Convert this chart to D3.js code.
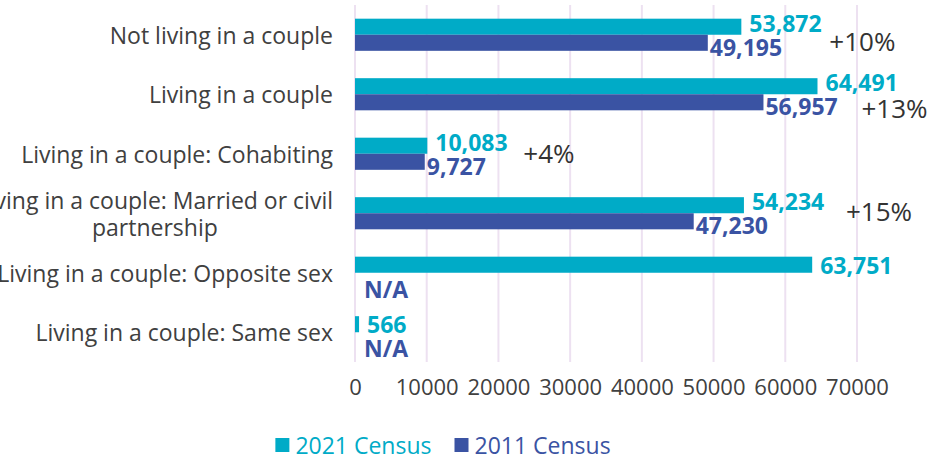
<!DOCTYPE html>
<html>
<head>
<meta charset="utf-8">
<script src="https://cdn.jsdelivr.net/npm/d3@7"></script>
<style>
  html, body { margin: 0; padding: 0; background: #fff; }
  svg { display: block; font-family: "Open Sans", "Noto Sans", sans-serif; }
</style>
</head>
<body>
<svg id="chart" width="930" height="456"></svg>
<script>
// ---- data ----
const categories = [
  "Not living in a couple",
  "Living in a couple",
  "Living in a couple: Cohabiting",
  "Living in a couple: Married or civil partnership",
  "Living in a couple: Opposite sex",
  "Living in a couple: Same sex"
];
const census2021 = [53872, 64491, 10083, 54234, 63751, 566];
const census2011 = [49195, 56957, 9727, 47230, null, null];
const seriesNames = ["2021 Census", "2011 Census"];
const xTickValues = [0, 10000, 20000, 30000, 40000, 50000, 60000, 70000];
const missingLabel = "N/A";

// ---- layout / style ----
const colors = ["#00ABC7", "#3A53A3"];
const textColor = "#404040";
const gridColor = "#EDE1F1";
const catFont = 23, tickFont = 22, valueFont = 23, changeFont = 26, legendFont = 23;
// manual placement of the "% change" annotations: [dx from longer bar end, dy from band centre]
const changeOffsets = [[88, 6], [44, 14], [96, -1], [102, -2]];

const svg = d3.select("#chart");

const x = d3.scaleLinear().domain([0, 70000]).range([355, 857]);
const y = d3.scaleBand().domain(categories).range([5, 362]).paddingInner(0.46).paddingOuter(0.23);
const ySub = d3.scaleBand().domain(seriesNames).range([0, y.bandwidth()]);

// gridlines
svg.append("g").selectAll("line").data(xTickValues).join("line")
  .attr("x1", d => x(d)).attr("x2", d => x(d))
  .attr("y1", 5).attr("y2", 362)
  .attr("stroke", gridColor).attr("stroke-width", 2);

// x axis tick labels via d3 axis
const xAxis = svg.append("g").attr("transform", "translate(0,379)")
  .call(d3.axisBottom(x).tickValues(xTickValues).tickFormat(d3.format("d")).tickSize(0).tickPadding(0));
xAxis.select(".domain").remove();
xAxis.selectAll("text").attr("font-size", tickFont).attr("fill", textColor)
  .attr("font-family", "Open Sans").attr("dy", "0.71em");

// category labels (wrapped, centre-aligned block with right edge at the axis gap)
const catG = svg.append("g");
const measure = (s, size, weight) => {
  const p = svg.append("text").attr("font-size", size).attr("font-weight", weight || "normal").text(s);
  const w = p.node().getComputedTextLength(); p.remove(); return w;
};
categories.forEach((c) => {
  const cy = y(c) + y.bandwidth() / 2;
  const maxW = 380;
  const words = c.split(" ");
  const lines = [];
  let cur = [];
  words.forEach(w => {
    const test = cur.concat([w]).join(" ");
    if (measure(test, catFont) > maxW && cur.length) {
      lines.push(cur.join(" "));
      cur = [w];
    } else cur.push(w);
  });
  lines.push(cur.join(" "));
  const lh = 27;
  const widths = lines.map(l => measure(l, catFont));
  const maxLine = d3.max(widths);
  const rightEdge = 333;
  lines.forEach((l, k) => {
    catG.append("text").attr("font-size", catFont).attr("fill", textColor)
      .attr("x", lines.length === 1 ? rightEdge : rightEdge - maxLine / 2)
      .attr("y", cy + (k - (lines.length - 1) / 2) * lh)
      .attr("text-anchor", lines.length === 1 ? "end" : "middle")
      .attr("dominant-baseline", "central").text(l);
  });
});

// bars
const series = [census2021, census2011];
series.forEach((vals, s) => {
  svg.append("g").selectAll("rect")
    .data(vals.map((v, i) => ({ v, c: categories[i] })).filter(d => d.v != null))
    .join("rect")
    .attr("x", x(0))
    .attr("y", d => y(d.c) + ySub(seriesNames[s]))
    .attr("width", d => x(d.v) - x(0))
    .attr("height", ySub.bandwidth())
    .attr("fill", colors[s]);
});

// value labels
const fmt = d3.format(",");
const labelG = svg.append("g").attr("font-weight", "bold").attr("font-size", valueFont);
categories.forEach((c, i) => {
  const cy = y(c) + y.bandwidth() / 2;
  const v21 = census2021[i], v11 = census2011[i];
  labelG.append("text").attr("fill", colors[0])
    .attr("x", x(v21) + 8).attr("y", v11 == null ? cy - 8 : cy - 12)
    .attr("dominant-baseline", "central").text(fmt(v21));
  labelG.append("text").attr("fill", colors[1])
    .attr("x", v11 == null ? x(0) + 9 : x(v11) + 2).attr("y", v11 == null ? cy + 16 : cy + 12)
    .attr("dominant-baseline", "central").text(v11 == null ? missingLabel : fmt(v11));
});

// % change annotations
const pct = d3.format("+.0%");
categories.forEach((c, i) => {
  const v21 = census2021[i], v11 = census2011[i];
  if (v11 == null) return;
  const off = changeOffsets[i];
  const cy = y(c) + y.bandwidth() / 2;
  svg.append("text").attr("font-size", changeFont).attr("fill", "#333")
    .attr("x", x(Math.max(v21, v11)) + off[0]).attr("y", cy + off[1])
    .attr("dominant-baseline", "central")
    .text(pct((v21 - v11) / v11));
});

// legend
const leg = svg.append("g");
let lx = 0;
seriesNames.forEach((n, s) => {
  const g = leg.append("g");
  g.append("rect").attr("x", lx).attr("y", -7).attr("width", 14).attr("height", 14).attr("fill", colors[s]);
  g.append("text").attr("x", lx + 20).attr("y", 0).attr("font-size", legendFont)
    .attr("fill", colors[s]).attr("dominant-baseline", "central").text(n);
  lx += 20 + measure(n, legendFont) + 23;
});
const legW = lx - 23;
leg.attr("transform", `translate(${443 - legW / 2},445)`);
</script>
</body>
</html>
